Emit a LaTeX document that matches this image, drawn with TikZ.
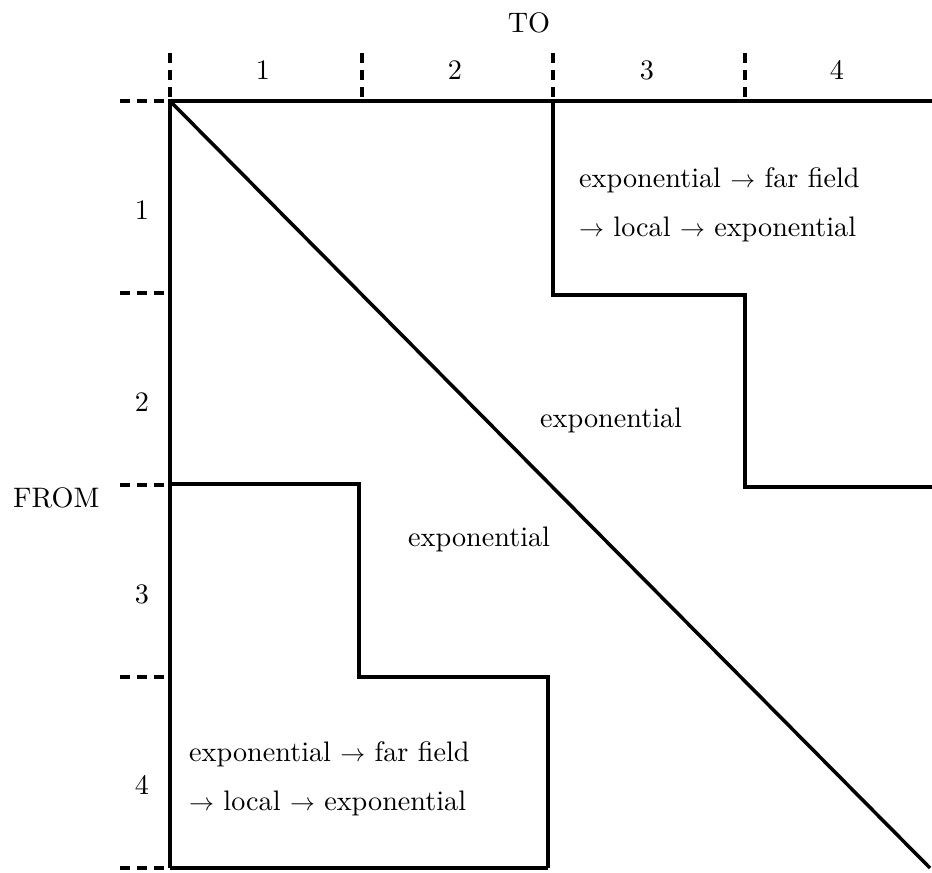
\documentclass[tikz,border=0pt]{standalone}
\usepackage{fontspec}
\setmainfont{lmroman10-regular.otf}
\begin{document}
\begin{tikzpicture}[x=1pt,y=-1pt,
  solidline/.style={line width=3.5pt,line join=miter,line cap=butt},
  tickline/.style={line width=3.5pt,dash pattern=on 10pt off 7pt},
  lbl/.style={inner sep=0pt,anchor=base,font=\fontsize{28.2}{34}\selectfont},
  txt/.style={inner sep=0pt,anchor=base west,font=\fontsize{28.2}{34}\selectfont}]
\useasboundingbox (0,0) rectangle (932,873);
% corner coordinates
\coordinate (O) at (170,101);
\coordinate (TR) at (932,101);
\coordinate (BL) at (170,868);
\coordinate (BR) at (930,868);
% top ticks
\foreach \x [count=\i] in {170,362,553,745} {
  \coordinate (ct\i) at (\x,53);
  \coordinate (cb\i) at (\x,101);
  \draw[tickline] (ct\i) -- (cb\i);
}
% left ticks
\foreach \y [count=\i] in {101,293,485,677,868} {
  \coordinate (rl\i) at (120,\y);
  \coordinate (rr\i) at (170,\y);
  \draw[tickline] (rl\i) -- (rr\i);
}
% frame
\draw[solidline] (TR) -- (O) -- (BL);
\coordinate (B2) at (548,868);
\draw[solidline] (BL) -- (B2);
\draw[solidline] (O) -- (BR);
% upper right staircase
\coordinate (u1) at (553,101);
\coordinate (u2) at (553,295);
\coordinate (u3) at (745,295);
\coordinate (u4) at (745,487);
\coordinate (u5) at (932,487);
\draw[solidline] (u1) -- (u2) -- (u3) -- (u4) -- (u5);
% lower left staircase
\coordinate (l1) at (170,484);
\coordinate (l2) at (359,484);
\coordinate (l3) at (359,677);
\coordinate (l4) at (548,677);
\draw[solidline] (l1) -- (l2) -- (l3) -- (l4) -- (B2);
% headings
\node[lbl] (to) at (529,32) {TO};
\node[txt] (from) at (13,507) {FROM};
% column labels
\node[lbl] (c1) at (263,79) {1};
\node[lbl] (c2) at (455,79) {2};
\node[lbl] (c3) at (647,79) {3};
\node[lbl] (c4) at (837,79) {4};
% row labels
\node[lbl] (r1) at (142,219) {1};
\node[lbl] (r2) at (142,411) {2};
\node[lbl] (r3) at (142,603) {3};
\node[lbl] (r4) at (142,794) {4};
% region texts
\node[txt] (ua) at (579,187) {exponential $\rightarrow$ far field};
\node[txt] (ub) at (579,236) {$\rightarrow$ local $\rightarrow$ exponential};
\node[txt] (mid1) at (540,427) {exponential};
\node[txt] (mid2) at (408,546) {exponential};
\node[txt] (la) at (189,761) {exponential $\rightarrow$ far field};
\node[txt] (lb) at (189,810) {$\rightarrow$ local $\rightarrow$ exponential};
\end{tikzpicture}
\end{document}
